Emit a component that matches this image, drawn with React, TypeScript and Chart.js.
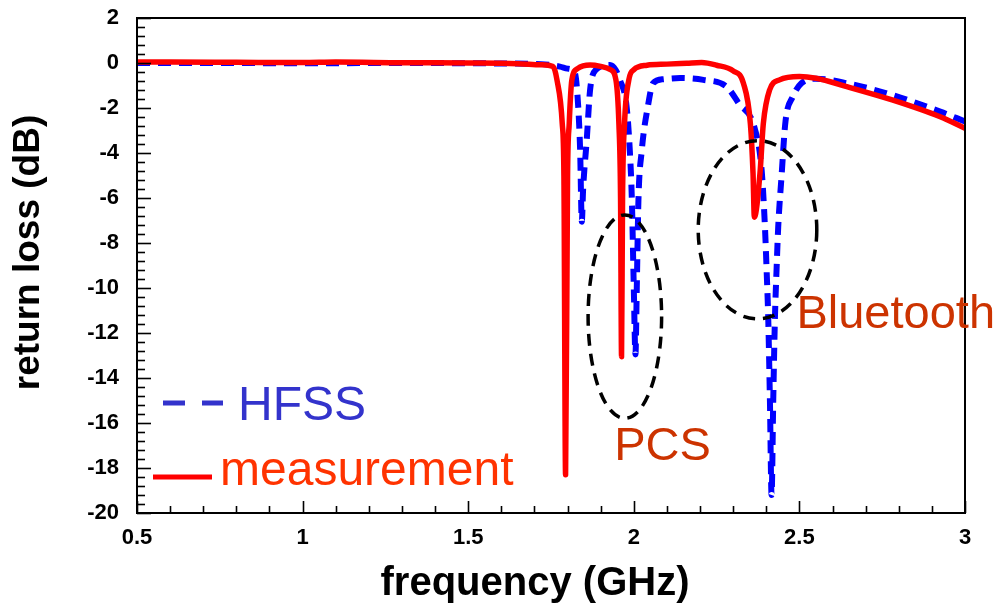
import React, { useEffect, useRef } from 'react';
import { Chart, registerables } from 'chart.js';

Chart.register(...registerables);

// ---- data ----
const hfssFreq = [
  0.5, 0.7, 1.0, 1.3, 1.6, 1.72, 1.777, 1.8, 1.822, 1.832, 1.838, 1.843, 1.847, 1.858, 1.868, 1.886,
  1.928, 1.945, 1.958, 1.978, 1.988, 1.994, 2.0, 2.005, 2.009, 2.014, 2.024, 2.044, 2.058, 2.09, 2.14,
  2.21, 2.28, 2.317, 2.365, 2.386, 2.396, 2.401, 2.406, 2.411, 2.416, 2.421, 2.426, 2.431, 2.436, 2.446,
  2.458, 2.48, 2.506, 2.55, 2.643, 2.78, 2.925, 3.0,
];
const hfssLoss = [
  0.0, 0.0, -0.01, 0.0, -0.02, -0.05, -0.16, -0.25, -0.45, -1.9, -3.9, -7.05, -5.6, -3.4, -1.2, -0.3,
  -0.09, -0.3, -0.75, -1.9, -3.9, -6.0, -10.0, -12.95, -10.0, -6.1, -3.9, -1.8, -0.9, -0.72, -0.67,
  -0.75, -1.05, -1.8, -2.9, -4.76, -7.3, -9.2, -11.4, -15.0, -19.2, -15.0, -11.4, -9.2, -7.3, -5.05,
  -2.6, -1.5, -0.9, -0.7, -0.9, -1.42, -2.16, -2.6,
];
const measFreq = [
  0.5, 0.6, 0.8, 1.0, 1.1, 1.3, 1.5, 1.65, 1.72, 1.756, 1.768, 1.784, 1.789, 1.794, 1.8, 1.805, 1.813,
  1.83, 1.868, 1.9, 1.93, 1.946, 1.955, 1.96, 1.963, 1.966, 1.972, 1.985, 2.0, 2.04, 2.1, 2.16, 2.205,
  2.25, 2.3, 2.331, 2.352, 2.36, 2.364, 2.381, 2.391, 2.41, 2.44, 2.5, 2.55, 2.643, 2.78, 2.925, 3.0,
];
const measLoss = [
  0.05, 0.04, 0.03, 0.02, 0.04, 0.01, 0.0, -0.03, -0.08, -0.16, -0.75, -2.7, -5.0, -18.3, -5.0, -2.7, -0.75,
  -0.25, -0.09, -0.15, -0.3, -0.75, -2.7, -6.0, -13.05, -6.0, -2.7, -0.75, -0.3, -0.1, -0.05, -0.01, 0.02,
  -0.1, -0.35, -0.9, -2.7, -4.9, -6.85, -4.9, -2.7, -1.2, -0.75, -0.6, -0.68, -1.05, -1.64, -2.39, -2.9,
];

const xMin = 0.5;
const xMax = 3;
const xMajorStep = 0.5;
const xMinorStep = 0.1;
const yMin = -20;
const yMax = 2;
const yMajorStep = 2;
const yMinorStep = 0.4;

const xTitle = 'frequency (GHz)';
const yTitle = 'return loss (dB)';
const seriesNames = ['HFSS', 'measurement'];

// annotated bands: ellipse centers / radii in data units, label anchors in data units
const bandNames = ['PCS', 'Bluetooth'];
const bandCenterFreq = [1.973, 2.3735];
const bandCenterLoss = [-11.27, -7.41];
const bandRadiusFreq = [0.111, 0.179];
const bandRadiusLoss = [4.52, 3.96];
const bandLabelFreq = [1.941, 2.491];
const bandLabelLoss = [-17.64, -11.79];

const FONT = "'Liberation Sans', Arial, Helvetica, sans-serif";

const decorPlugin = {
  id: 'decor',
  afterDraw(chart: any) {
    const { ctx, chartArea: ca, scales } = chart;
    const xs = scales.x;
    const ys = scales.y;
    ctx.save();

    // frame
    ctx.strokeStyle = '#000';
    ctx.lineWidth = 2;
    ctx.setLineDash([]);
    ctx.strokeRect(ca.left, ca.top, ca.right - ca.left, ca.bottom - ca.top);

    // inner tick marks
    ctx.lineWidth = 1.6;
    const nx = Math.round((xMax - xMin) / xMinorStep);
    const perMajorX = Math.round(xMajorStep / xMinorStep);
    for (let i = 0; i <= nx; i++) {
      const v = xMin + i * xMinorStep;
      const px = Math.round(xs.getPixelForValue(v)) + 0.5;
      const len = i % perMajorX === 0 ? 12 : 7;
      ctx.beginPath();
      ctx.moveTo(px, ca.bottom);
      ctx.lineTo(px, ca.bottom - len);
      ctx.stroke();
    }
    const ny = Math.round((yMax - yMin) / yMinorStep);
    const perMajorY = Math.round(yMajorStep / yMinorStep);
    for (let i = 0; i <= ny; i++) {
      const v = yMin + i * yMinorStep;
      const py = Math.round(ys.getPixelForValue(v)) + 0.5;
      const len = i % perMajorY === 0 ? 14 : 8;
      ctx.beginPath();
      ctx.moveTo(ca.left, py);
      ctx.lineTo(ca.left + len, py);
      ctx.stroke();
    }

    // axis titles
    ctx.fillStyle = '#000';
    ctx.textAlign = 'center';
    ctx.textBaseline = 'alphabetic';
    ctx.font = `bold 40px ${FONT}`;
    ctx.fillText(xTitle, 535, 595);
    ctx.save();
    ctx.translate(39, 252.5);
    ctx.rotate(-Math.PI / 2);
    ctx.font = `bold 37px ${FONT}`;
    ctx.fillText(yTitle, 0, 0);
    ctx.restore();

    // band ellipses
    ctx.strokeStyle = '#000';
    ctx.lineWidth = 3.5;
    ctx.setLineDash([12, 8]);
    for (let i = 0; i < bandNames.length; i++) {
      const cx = xs.getPixelForValue(bandCenterFreq[i]);
      const cy = ys.getPixelForValue(bandCenterLoss[i]);
      const rx = Math.abs(xs.getPixelForValue(bandCenterFreq[i] + bandRadiusFreq[i]) - cx);
      const ry = Math.abs(ys.getPixelForValue(bandCenterLoss[i] + bandRadiusLoss[i]) - cy);
      ctx.beginPath();
      ctx.ellipse(cx, cy, rx, ry, 0, 0, Math.PI * 2);
      ctx.stroke();
    }
    ctx.setLineDash([]);

    // band labels
    ctx.fillStyle = '#cc3300';
    ctx.textAlign = 'left';
    ctx.font = `47px ${FONT}`;
    for (let i = 0; i < bandNames.length; i++) {
      ctx.fillText(
        bandNames[i],
        xs.getPixelForValue(bandLabelFreq[i]),
        ys.getPixelForValue(bandLabelLoss[i])
      );
    }

    // legend
    ctx.lineCap = 'butt';
    ctx.strokeStyle = '#3333cc';
    ctx.lineWidth = 5;
    ctx.beginPath();
    ctx.moveTo(163, 403);
    ctx.lineTo(185, 403);
    ctx.moveTo(202, 403);
    ctx.lineTo(223, 403);
    ctx.stroke();
    ctx.fillStyle = '#3333cc';
    ctx.font = `48px ${FONT}`;
    ctx.fillText(seriesNames[0], 238, 420);

    ctx.strokeStyle = '#ff0000';
    ctx.beginPath();
    ctx.moveTo(153, 477);
    ctx.lineTo(212, 477);
    ctx.stroke();
    ctx.fillStyle = '#ff3300';
    ctx.fillText(seriesNames[1], 220, 485);

    ctx.restore();
  },
};

export default function App() {
  const canvasRef = useRef<HTMLCanvasElement | null>(null);

  useEffect(() => {
    const canvas = canvasRef.current;
    if (!canvas) return;
    const hfss = hfssFreq.map((f, i) => ({ x: f, y: hfssLoss[i] }));
    const meas = measFreq.map((f, i) => ({ x: f, y: measLoss[i] }));
    const tickFont = { family: FONT, size: 22, weight: 'bold' as const };

    const chart = new Chart(canvas, {
      type: 'line',
      data: {
        datasets: [
          {
            label: seriesNames[0],
            data: hfss,
            order: 1,
            borderColor: '#0000ff',
            borderWidth: 6,
            borderDash: [13, 8],
            pointRadius: 0,
            fill: false,
            cubicInterpolationMode: 'monotone',
          },
          {
            label: seriesNames[1],
            data: meas,
            order: 0,
            borderColor: '#ff0000',
            borderWidth: 5.5,
            borderJoinStyle: 'round',
            borderCapStyle: 'round',
            pointRadius: 0,
            fill: false,
            cubicInterpolationMode: 'monotone',
          },
        ],
      },
      options: {
        animation: false,
        responsive: false,
        devicePixelRatio: 1,
        layout: { padding: { left: 0, right: 36, top: 18, bottom: 0 } },
        plugins: {
          legend: { display: false },
          tooltip: { enabled: false },
          title: { display: false },
        },
        scales: {
          x: {
            type: 'linear',
            min: xMin,
            max: xMax,
            grid: { display: false, drawTicks: false },
            border: { display: false },
            ticks: {
              stepSize: xMajorStep,
              padding: 12,
              color: '#000',
              font: tickFont,
              maxRotation: 0,
              callback: (v: any) => String(Number(v)),
            },
            afterFit: (s: any) => {
              s.height = 90;
              s.paddingLeft = 0;
              s.paddingRight = 0;
              s.paddingTop = 0;
              s.paddingBottom = 0;
            },
          },
          y: {
            type: 'linear',
            min: yMin,
            max: yMax,
            grid: { display: false, drawTicks: false },
            border: { display: false },
            ticks: {
              stepSize: yMajorStep,
              padding: 18,
              color: '#000',
              font: tickFont,
              callback: (v: any) => String(Number(v)),
            },
            afterFit: (s: any) => {
              s.width = 137;
              s.paddingLeft = 0;
              s.paddingRight = 0;
              s.paddingTop = 0;
              s.paddingBottom = 0;
            },
          },
        },
      },
      plugins: [decorPlugin],
    } as any);

    return () => chart.destroy();
  }, []);

  return (
    <div style={{ position: 'fixed', left: 0, top: 0, width: 1001, height: 603, background: '#fff' }}>
      <canvas ref={canvasRef} width={1001} height={603} style={{ width: 1001, height: 603, display: 'block' }} />
    </div>
  );
}
